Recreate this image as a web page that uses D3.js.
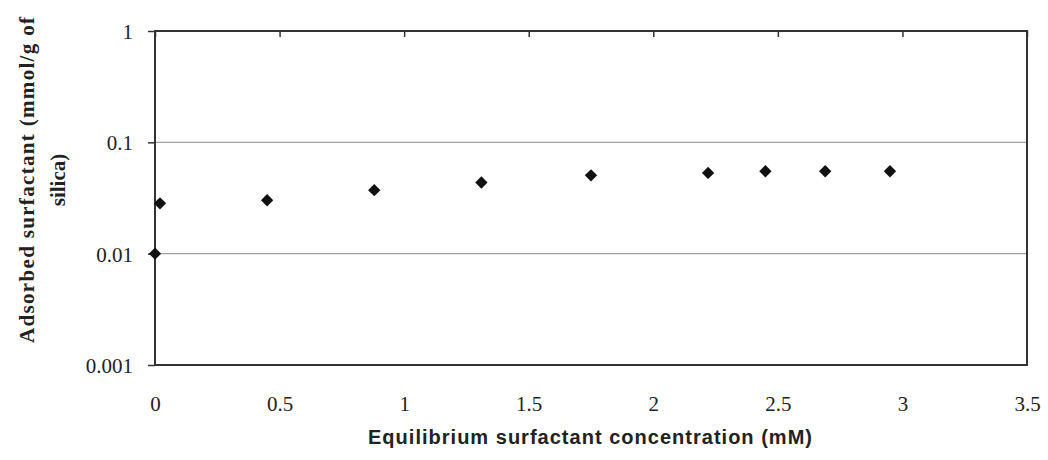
<!DOCTYPE html>
<html>
<head>
<meta charset="utf-8">
<script src="https://cdn.jsdelivr.net/npm/d3@7"></script>
<style>
  body { margin: 0; background: #fff; }
</style>
</head>
<body>
<div id="chart"></div>
<script>
// data
var concentration = [0, 0.02, 0.45, 0.88, 1.31, 1.75, 2.22, 2.45, 2.69, 2.95];
var adsorbed = [0.0100, 0.0283, 0.0302, 0.0372, 0.0436, 0.0505, 0.0531, 0.0550, 0.0550, 0.0550];
var xTicks = [0, 0.5, 1, 1.5, 2, 2.5, 3, 3.5];
var yTicks = [0.001, 0.01, 0.1, 1];
var gridValues = [0.01, 0.1];

var serif = "'Liberation Serif', 'DejaVu Serif', serif";

var svgWidth = 1048;
var svgHeight = 460;
var margin = { top: 31, right: 21, bottom: 95, left: 155 };
var width = svgWidth - margin.left - margin.right;
var height = svgHeight - margin.top - margin.bottom;

var svg = d3.select("#chart")
  .append("svg")
  .attr("width", svgWidth)
  .attr("height", svgHeight);

var chartGroup = svg.append("g")
  .attr("transform", `translate(${margin.left}, ${margin.top})`);

var xScale = d3.scaleLinear().domain([0, 3.5]).range([0, width]);
var yScale = d3.scaleLog().domain([0.001, 1]).range([height, 0]);

// gridlines
chartGroup.selectAll(".grid")
  .data(gridValues)
  .enter()
  .append("line")
  .attr("x1", 0)
  .attr("x2", width)
  .attr("y1", d => yScale(d))
  .attr("y2", d => yScale(d))
  .attr("stroke", "#a0a0a0")
  .attr("stroke-width", 1.3);

// plot border
chartGroup.append("rect")
  .attr("width", width)
  .attr("height", height)
  .attr("fill", "none")
  .attr("stroke", "#333")
  .attr("stroke-width", 2);

// top axis with inside ticks (horizontal axis crosses at 1)
var topAxis = chartGroup.append("g")
  .call(d3.axisTop(xScale).tickValues(xTicks).tickSize(-6).tickFormat(""));
topAxis.select(".domain").remove();
topAxis.selectAll("line").attr("stroke", "#333").attr("stroke-width", 1.5);

// x tick labels below the plot
var bottomAxis = chartGroup.append("g")
  .attr("transform", `translate(0, ${height})`)
  .call(d3.axisBottom(xScale).tickValues(xTicks).tickSize(0).tickPadding(31).tickFormat(d3.format("")));
bottomAxis.select(".domain").remove();

// y axis
var leftAxis = chartGroup.append("g")
  .call(d3.axisLeft(yScale).tickValues(yTicks).tickSize(7).tickPadding(15).tickFormat(d => String(d)));
leftAxis.select(".domain").remove();
leftAxis.selectAll("line").attr("stroke", "#333").attr("stroke-width", 1.5);
leftAxis.selectAll("text").attr("dy", "0.35em");

[bottomAxis, leftAxis].forEach(function (ax) {
  ax.attr("font-family", serif).attr("font-size", 21);
  ax.selectAll("text").attr("fill", "#222");
});

// points
chartGroup.selectAll(".point")
  .data(concentration)
  .enter()
  .append("path")
  .attr("d", d3.symbol(d3.symbolSquare, 76))
  .attr("transform", (d, i) => `translate(${xScale(d)}, ${yScale(adsorbed[i])}) rotate(45)`)
  .attr("fill", "#111");

// axis titles
svg.append("text")
  .attr("x", 590)
  .attr("y", 444)
  .attr("text-anchor", "middle")
  .attr("textLength", 444)
  .attr("font-family", "'Liberation Sans', Arial, sans-serif")
  .attr("font-weight", "bold")
  .attr("font-size", 20)
  .attr("fill", "#222")
  .text("Equilibrium surfactant concentration (mM)");

var yTitle = svg.append("text")
  .attr("transform", "translate(0, 180) rotate(-90)")
  .attr("text-anchor", "middle")
  .attr("font-family", serif)
  .attr("font-weight", "bold")
  .attr("font-size", 21)
  .attr("fill", "#222");

yTitle.append("tspan")
  .attr("x", 0)
  .attr("y", 34)
  .attr("textLength", 326)
  .text("Adsorbed surfactant (mmol/g of");

yTitle.append("tspan")
  .attr("x", 0)
  .attr("y", 65)
  .text("silica)");
</script>
</body>
</html>
